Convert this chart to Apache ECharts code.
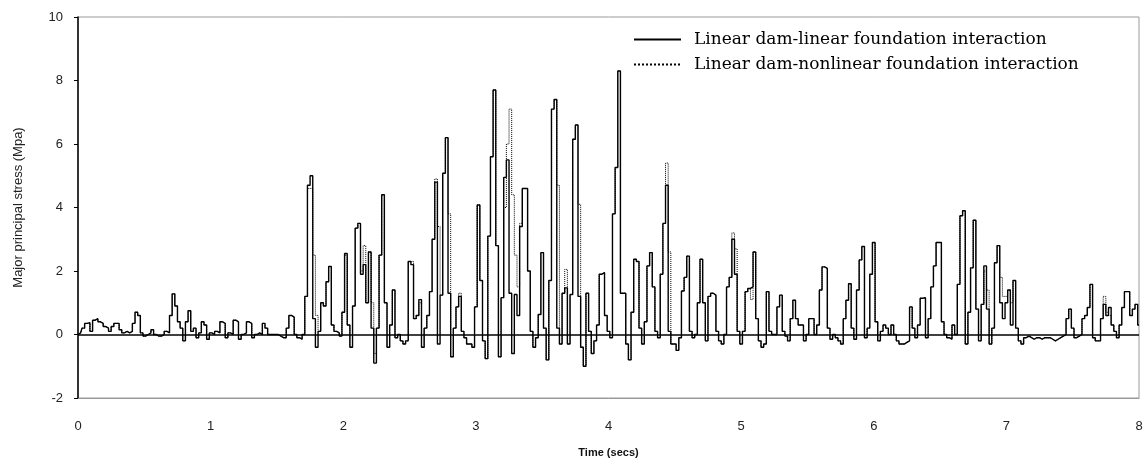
<!DOCTYPE html>
<html lang="en">
<head>
    <meta charset="UTF-8">
    <title>Major principal stress time history</title>
    <script src="https://cdn.jsdelivr.net/npm/echarts@6.0.0/dist/echarts.min.js"></script>
    <style>
        html, body { margin: 0; padding: 0; background: #fff; }
        #chart { width: 1148px; height: 468px; }
    </style>
</head>
<body>
    <div id="chart"></div>

    <script>
        // sampling step of the records (secs)
        const dt = 0.02;
        const seriesNames = ['Linear dam-linear foundation interaction', 'Linear dam-nonlinear foundation interaction'];
        const yTicks = [-2, 0, 2, 4, 6, 8, 10];
        const xTicks = [0, 1, 2, 3, 4, 5, 6, 7, 8];

        // linear dam - linear foundation (Mpa), one row = 0.1 s
        const linearStress = [
            0.00, 0.05, 0.20, 0.35, 0.37,
            0.10, 0.45, 0.50, 0.40, 0.35,
            0.25, 0.20, 0.10, 0.25, 0.35,
            0.35, 0.15, 0.05, 0.10, 0.05,
            0.10, 0.35, 0.70, 0.60, 0.05,
            -0.05, 0.00, 0.05, 0.15, 0.00,
            -0.05, -0.05, 0.00, 0.10, 0.05,
            0.60, 1.28, 0.90, 0.40, 0.20,
            -0.20, 0.40, 0.75, 0.10, 0.20,
            -0.10, 0.05, 0.40, 0.30, -0.15,
            // 1 s
            0.05, 0.00, 0.10, 0.05, 0.40,
            0.35, -0.10, 0.05, 0.00, 0.45,
            0.40, -0.15, 0.00, 0.05, 0.40,
            0.35, -0.10, 0.00, 0.05, 0.00,
            0.35, 0.20, 0.00, 0.00, 0.00,
            0.00, -0.05, -0.10, -0.10, 0.20,
            0.60, 0.55, 0.00, -0.10, -0.15,
            0.00, 1.20, 4.70, 5.00, 0.50,
            -0.40, 0.10, 1.00, 0.90, 1.66,
            2.14, 0.30, 0.10, 0.05, -0.05,
            // 2 s
            0.70, 2.55, 0.30, -0.40, 0.90,
            3.35, 3.50, 1.90, 2.20, 1.00,
            2.60, 0.20, -0.90, 0.20, 2.50,
            4.40, 1.00, -0.40, 0.30, 1.40,
            -0.10, 0.00, -0.20, -0.30, -0.20,
            2.30, 2.20, 0.50, 0.60, 1.10,
            -0.40, 0.20, 0.60, 1.35, 3.00,
            4.80, -0.30, 1.24, 5.08, 6.20,
            1.30, -0.70, 0.20, 0.87, 1.20,
            0.10, -0.10, -0.30, -0.30, -0.40,
            // 3 s
            0.87, 4.08, 1.70, -0.20, -0.76,
            3.10, 5.60, 7.70, 2.80, -0.70,
            1.16, 4.95, 5.50, 1.30, -0.60,
            1.26, 0.60, 3.40, 4.60, 4.60,
            2.00, 0.10, -0.40, -0.10, 0.63,
            2.58, 0.20, -0.80, 1.70, 7.10,
            7.40, 0.20, -0.30, 1.30, 1.47,
            -0.30, 1.26, 6.15, 6.60, 1.20,
            -0.40, -1.00, 1.30, 0.10, -0.60,
            -0.20, 0.30, 1.90, 1.95, 0.60,
            // 4 s
            0.10, -0.10, 3.80, 5.26, 8.30,
            1.30, 1.30, -0.30, -0.80, 0.70,
            2.37, 2.30, 0.20, -0.30, 0.40,
            2.16, 2.58, 1.50, 0.10, -0.10,
            1.90, 3.50, 4.70, 0.10, -0.30,
            -0.30, -0.50, -0.10, 1.37, 1.80,
            2.47, 0.10, -0.10, 0.00, 1.00,
            2.37, 1.00, -0.20, 1.20, 1.30,
            1.24, 0.10, -0.20, -0.30, 0.00,
            1.50, 1.80, 3.00, 1.90, 0.10,
            // 5 s
            -0.30, 0.10, 1.35, 1.45, 1.50,
            2.60, 0.50, -0.20, -0.40, -0.30,
            1.35, 0.10, 0.00, 0.00, 0.87,
            1.24, 0.10, -0.05, -0.20, 0.50,
            1.08, 0.50, 0.30, 0.30, -0.20,
            0.00, 0.50, 0.50, 0.00, 0.30,
            1.40, 2.13, 2.08, 0.20, -0.15,
            0.00, -0.10, -0.20, -0.30, 0.50,
            1.08, 1.60, 0.20, -0.15, 1.40,
            2.35, 2.77, -0.10, 0.20, 1.90,
            // 6 s
            2.90, 0.40, -0.20, 0.10, 0.30,
            0.20, 0.00, 0.30, 0.00, -0.20,
            -0.30, -0.30, -0.25, -0.20, 0.87,
            0.20, -0.10, 0.30, 1.14, 1.16,
            -0.10, 0.50, 1.50, 2.16, 2.90,
            2.90, 0.40, 0.00, -0.10, -0.15,
            0.30, 0.00, 1.58, 3.74, 3.90,
            -0.30, 0.70, 2.10, 3.60, 0.80,
            -0.20, 0.95, 2.16, 0.80, -0.30,
            0.20, 2.26, 2.80, 1.00, 0.50,
            // 7 s
            1.00, 1.40, 0.30, 1.70, 0.20,
            -0.20, -0.30, -0.10, -0.05, -0.10,
            -0.15, -0.10, -0.10, -0.15, -0.10,
            -0.10, -0.10, -0.15, -0.20, -0.15,
            -0.10, -0.05, 0.00, 0.50, 0.80,
            0.20, -0.10, -0.05, 0.00, 0.50,
            0.60, 0.85, 1.58, -0.10, -0.20,
            -0.20, 0.50, 0.95, 0.60, 0.85,
            0.30, 0.10, -0.10, 0.30, 0.85,
            1.35, 1.35, 0.60, 0.80, 0.95,
            0.30
        ];

        // linear dam - nonlinear foundation (Mpa)
        const nonlinearStress = [
            0.00, 0.05, 0.20, 0.35, 0.37,
            0.10, 0.45, 0.50, 0.40, 0.35,
            0.25, 0.20, 0.10, 0.25, 0.35,
            0.35, 0.15, 0.05, 0.10, 0.05,
            0.10, 0.35, 0.70, 0.60, 0.05,
            -0.05, 0.00, 0.05, 0.15, 0.00,
            -0.05, -0.05, 0.00, 0.10, 0.05,
            0.60, 1.28, 0.90, 0.40, 0.20,
            -0.20, 0.40, 0.75, 0.10, 0.20,
            -0.10, 0.05, 0.40, 0.30, -0.15,
            // 1 s
            0.05, 0.00, 0.10, 0.05, 0.40,
            0.35, -0.10, 0.05, 0.00, 0.45,
            0.40, -0.15, 0.00, 0.05, 0.40,
            0.35, -0.10, 0.00, 0.05, 0.00,
            0.35, 0.20, 0.00, 0.00, 0.00,
            0.00, -0.05, -0.10, -0.10, 0.20,
            0.60, 0.55, 0.00, -0.10, -0.15,
            0.00, 1.20, 4.60, 4.60, 2.50,
            0.60, 0.10, 1.00, 0.90, 1.66,
            2.14, 0.30, 0.10, 0.05, -0.05,
            // 2 s
            0.70, 2.50, 0.30, -0.40, 0.90,
            3.35, 3.50, 2.00, 2.80, 1.00,
            2.60, 1.00, -0.60, 0.20, 2.50,
            4.40, 1.00, -0.40, 0.30, 1.40,
            -0.10, 0.00, -0.20, -0.30, -0.20,
            2.30, 2.30, 0.50, 0.60, 1.00,
            -0.40, 0.20, 0.60, 1.35, 3.00,
            4.90, 3.40, 1.24, 5.08, 6.20,
            3.80, -0.70, 0.20, 0.87, 1.30,
            0.10, -0.10, -0.30, -0.30, -0.40,
            // 3 s
            0.87, 4.08, 1.70, -0.20, -0.76,
            3.10, 5.60, 7.70, 2.80, -0.70,
            1.16, 4.00, 6.00, 7.10, 4.40,
            2.50, 1.50, 3.50, 4.60, 4.60,
            2.00, 0.10, -0.40, -0.10, 0.63,
            2.58, 0.20, -0.80, 1.70, 7.10,
            7.40, 4.70, -0.30, 1.30, 2.05,
            -0.30, 1.26, 6.15, 6.60, 4.10,
            -0.40, -1.00, 1.30, 0.10, -0.60,
            -0.20, 0.30, 1.90, 1.95, 0.60,
            // 4 s
            0.10, -0.10, 3.80, 5.26, 8.30,
            1.30, 1.30, -0.30, -0.80, 0.70,
            2.37, 2.30, 0.20, -0.30, 0.40,
            2.16, 2.58, 1.50, 0.10, -0.10,
            1.90, 3.50, 5.40, 2.60, -0.30,
            -0.30, -0.50, -0.10, 1.37, 1.80,
            2.47, 0.10, -0.10, 0.00, 1.00,
            2.37, 1.00, -0.20, 1.20, 1.30,
            1.24, 0.10, -0.20, -0.30, 0.00,
            1.50, 1.80, 3.20, 2.70, 0.10,
            // 5 s
            -0.30, 0.10, 1.35, 1.45, 1.10,
            2.60, 0.50, -0.20, -0.40, -0.30,
            1.35, 0.10, 0.00, 0.00, 0.87,
            1.24, 0.10, -0.05, -0.20, 0.50,
            1.08, 0.50, 0.30, 0.30, -0.20,
            0.00, 0.50, 0.50, 0.00, 0.30,
            1.40, 2.13, 2.08, 0.20, -0.15,
            0.00, -0.10, -0.20, -0.30, 0.50,
            1.08, 1.60, 0.20, -0.15, 1.40,
            2.35, 2.77, -0.10, 0.20, 1.90,
            // 6 s
            2.90, 0.40, -0.20, 0.10, 0.30,
            0.20, 0.00, 0.30, 0.00, -0.20,
            -0.30, -0.30, -0.25, -0.20, 0.87,
            0.20, -0.10, 0.30, 1.14, 1.16,
            -0.10, 0.50, 1.50, 2.16, 2.90,
            2.90, 0.40, 0.00, -0.10, -0.15,
            0.30, 0.00, 1.58, 3.74, 3.90,
            -0.30, 0.70, 2.10, 3.60, 0.80,
            -0.20, 0.95, 2.00, 1.40, -0.30,
            0.20, 2.26, 2.80, 1.80, 1.20,
            // 7 s
            1.20, 1.40, 1.00, 1.70, 0.20,
            -0.20, -0.30, -0.10, -0.05, -0.10,
            -0.15, -0.10, -0.10, -0.15, -0.10,
            -0.10, -0.10, -0.15, -0.20, -0.15,
            -0.10, -0.05, 0.00, 0.50, 0.80,
            0.20, -0.10, -0.05, 0.00, 0.50,
            0.60, 0.85, 1.58, -0.10, -0.20,
            -0.20, 0.50, 1.20, 0.70, 0.60,
            0.30, 0.10, -0.10, 0.30, 0.85,
            1.35, 1.35, 0.60, 0.80, 0.95,
            0.30
        ];

        const toPoints = arr => arr.map((v, i) => [+(i * dt).toFixed(2), v]);

        const chart = echarts.init(document.getElementById('chart'));

        const option = {
            animation: false,
            grid: {
                left: 78, right: 9, top: 17, bottom: 70,
                show: true, borderColor: '#9a9a9a', borderWidth: 1
            },
            legend: {
                orient: 'vertical',
                left: 628,
                top: 26,
                itemWidth: 47,
                itemHeight: 14,
                itemGap: 8,
                data: seriesNames,
                itemStyle: { opacity: 0 },
                textStyle: { fontFamily: 'DejaVu Serif', fontSize: 17, color: '#000', padding: [0, 0, 0, 8] }
            },
            xAxis: {
                type: 'value',
                min: xTicks[0],
                max: xTicks[xTicks.length - 1],
                interval: 1,
                name: 'Time (secs)',
                nameLocation: 'middle',
                nameGap: 49,
                nameTextStyle: { fontFamily: 'Liberation Sans', fontSize: 11, fontWeight: 'bold', color: '#111' },
                axisLine: { onZero: false, lineStyle: { color: '#9a9a9a', width: 1 } },
                axisTick: { show: false },
                splitLine: { show: false },
                axisLabel: { margin: 22, fontFamily: 'Liberation Sans', fontSize: 13, color: '#222' }
            },
            yAxis: {
                type: 'value',
                min: yTicks[0],
                max: yTicks[yTicks.length - 1],
                interval: 2,
                name: 'Major principal stress (Mpa)',
                nameLocation: 'middle',
                nameGap: 53,
                nameTextStyle: { fontFamily: 'Liberation Sans', fontSize: 13, color: '#222' },
                axisLine: { show: true, lineStyle: { color: '#000', width: 1.5 } },
                axisTick: { show: true, length: 4, lineStyle: { color: '#000', width: 1 } },
                splitLine: { show: false },
                axisLabel: { margin: 15, fontFamily: 'Liberation Sans', fontSize: 13, color: '#222' }
            },
            series: [
                {
                    name: seriesNames[0],
                    type: 'line',
                    step: 'middle',
                    showSymbol: false,
                    symbol: 'none',
                    data: toPoints(linearStress),
                    lineStyle: { color: '#000', width: 1.4 },
                    itemStyle: { color: '#000' },
                    markLine: {
                        silent: true,
                        symbol: ['none', 'none'],
                        label: { show: false },
                        lineStyle: { color: '#000', width: 1.5, type: 'solid' },
                        data: [{ yAxis: 0 }]
                    }
                },
                {
                    name: seriesNames[1],
                    type: 'line',
                    step: 'middle',
                    showSymbol: false,
                    symbol: 'none',
                    data: toPoints(nonlinearStress),
                    lineStyle: { color: '#000', width: 1, type: 'dotted' },
                    itemStyle: { color: '#000' }
                }
            ]
        };

        chart.setOption(option);
    </script>
</body>
</html>
